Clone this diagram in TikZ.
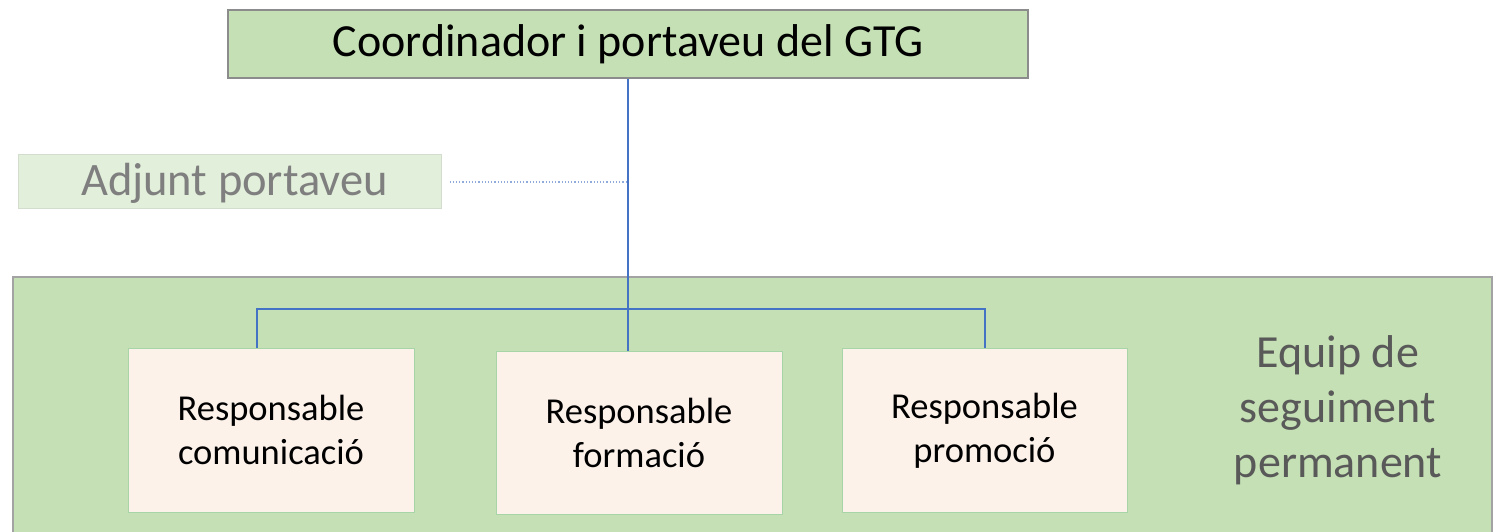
\documentclass[tikz,border=0pt]{standalone}
\usepackage{fontspec}
\setmainfont{Carlito}
\definecolor{gfill}{HTML}{C5E0B4}
\definecolor{lgfill}{HTML}{E2EFDA}
\definecolor{bfill}{HTML}{FCF2EA}
\definecolor{bborder}{HTML}{A8D5A8}
\definecolor{gborder}{HTML}{8C8C8C}
\definecolor{lborder}{HTML}{D3DDCE}
\definecolor{blueline}{HTML}{4472C4}
\definecolor{dotline}{HTML}{8FAADC}
\definecolor{grtext}{HTML}{7F7F7F}
\definecolor{dgtext}{HTML}{595959}
\begin{document}
\begin{tikzpicture}[x=1pt,y=-1pt,
  topbox/.style={draw=gborder,fill=gfill,line width=1.2pt,minimum width=800pt,minimum height=68pt,inner sep=0pt,font=\fontsize{46}{56}\selectfont},
  adjbox/.style={draw=lborder,fill=lgfill,line width=1pt,minimum width=423pt,minimum height=54pt,inner sep=0pt},
  respbox/.style={draw=bborder,fill=bfill,line width=1pt,minimum width=286pt,minimum height=164pt,inner sep=0pt,align=center,font=\fontsize{36.5}{44}\selectfont},
  team/.style={draw=gborder!80,fill=gfill,line width=1.2pt,inner sep=0pt},
  bus/.style={draw=blueline,line width=2.2pt},
  dots/.style={draw=dotline,line width=1.2pt,dotted}]
\useasboundingbox (0,0) rectangle (1497,531);
\fill[white] (0,0) rectangle (1497,531);
% team background
\path[team] (13,277) rectangle (1492,540);
\node[anchor=center,align=center,text=dgtext,font=\fontsize{46}{55}\selectfont] (equip) at (1338,410) {Equip de\\seguiment\\permanent};
% nodes
\node[topbox] (coord) at (628,44) {\raisebox{-1pt}{Coordinador i portaveu del GTG}};
\node[adjbox] (adj) at (229.5,181) {};
\node[text=grtext,font=\fontsize{46.5}{56}\selectfont,inner sep=0pt] (adjtext) at (234.5,183) {Adjunt portaveu};
\node[respbox] (com) at (271,430) {Responsable\\comunicació};
\node[respbox,minimum height=163pt] (form) at (639,432.5) {Responsable\\formació};
\node[respbox,minimum width=285pt] (prom) at (984.5,430.5) {Responsable\\promoció};
% connectors
\coordinate (busL) at (257,309);
\coordinate (busR) at (985,309);
\coordinate (adjj) at (628,182);
\draw[bus] (coord.south) -- (coord.south |- form.north);
\draw[bus] (busL |- com.north) -- (busL) -- (busR) -- (busR |- prom.north);
\draw[dots] ([xshift=8pt]adj.east |- adjj) -- (adjj);
\end{tikzpicture}
\end{document}
